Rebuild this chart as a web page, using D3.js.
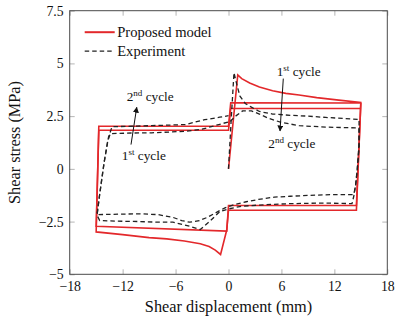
<!DOCTYPE html>
<html>
<head>
<meta charset="utf-8">
<script src="https://cdn.jsdelivr.net/npm/d3@7"></script>
<style>
  body { margin: 0; background: #fff; }
  svg { display: block; }
  text { font-family: "Liberation Serif", "DejaVu Serif", serif; fill: #111; }
</style>
</head>
<body>
<div id="chartContainer"></div>
<script>
// values: [shear displacement (mm), shear stress (MPa)]
var modelCycle1 = [
  [0, 0], [1.05, 4.45], [1.5, 4.28], [2.4, 4.07], [3.5, 3.88], [5, 3.7], [6.5, 3.58],
  [8, 3.5], [10, 3.38], [12.5, 3.26], [15, 3.15],
  [14.5, -1.96], [0, -1.96], [-0.2, -2.9], [-0.9, -4.06],
  [-1.5, -3.85], [-2.2, -3.68], [-3.2, -3.55], [-5, -3.42], [-7, -3.32], [-9, -3.26],
  [-12, -3.12], [-15, -2.99],
  [-14.7, 2.02], [0, 2.02], [0.25, 3.13], [15, 3.12]
];

var modelCycle2 = [
  [15, 3.12], [14.5, -1.74], [0, -1.74], [-0.2, -2.95], [-15, -2.72],
  [-14.7, 1.83], [0, 1.83], [0.25, 2.86], [15, 2.86]
];

var expCycle1 = [
  [0, 0], [0.3, 2.3], [0.62, 4.56], [1.0, 3.9], [1.3, 3.45], [1.9, 3.1], [2.5, 2.95],
  [3.5, 2.72], [5, 2.6], [7, 2.54], [9, 2.5], [11, 2.44], [13, 2.39], [14.8, 2.34],
  [14.8, 1.2], [14.6, 0], [14.4, -0.8], [14.2, -1.22],
  [12, -1.22], [9, -1.26], [7, -1.3], [5.2, -1.34], [3.4, -1.45], [2, -1.56], [0.7, -1.69],
  [-0.4, -1.85], [-1, -1.98], [-2.4, -2.3], [-3.3, -2.45], [-4.4, -2.53], [-5.3, -2.45],
  [-6.3, -2.3], [-8, -2.17], [-10, -2.13], [-12.5, -2.15], [-14.9, -2.17],
  [-14.6, -1.2], [-14.1, 0.3], [-13.7, 1.3], [-13.4, 1.67],
  [-11, 1.7], [-8.7, 1.71], [-4.9, 1.78], [-3, 1.88], [-1.1, 2.1], [0.2, 2.25]
];

var expCycle2 = [
  [0.2, 2.25], [0.8, 2.5], [1.6, 2.75], [2.6, 2.75], [3.5, 2.6], [4.5, 2.4], [6, 2.2],
  [8, 2.05], [11, 1.98], [14.8, 1.94],
  [14.8, 1.0], [14.6, 0], [14.4, -0.8], [14.2, -1.3], [14.0, -1.65],
  [11, -1.62], [7, -1.65], [4.1, -1.7], [1.5, -1.77], [0, -1.9], [-1, -2.03],
  [-2.1, -2.48], [-3.2, -2.88], [-4.4, -2.72], [-6.3, -2.53], [-8, -2.53], [-10, -2.5],
  [-12.5, -2.48], [-14.6, -2.45], [-14.9, -2.2],
  [-14.6, -1.2], [-14.1, 0.3], [-13.6, 1.5], [-13.2, 2.0],
  [-11, 2.02], [-8.7, 2.05], [-4.9, 2.1], [-2.7, 2.33], [-1, 2.45], [0, 2.52]
];

var xTicks = [-18, -12, -6, 0, 6, 12, 18];
var yTicks = [-5, -2.5, 0, 2.5, 5, 7.5];
var legendLabels = ["Proposed model", "Experiment"];

var margin = {top: 10.7, right: 11.7, bottom: 48.7, left: 69.7},
    width = 399 - margin.left - margin.right,
    height = 323 - margin.top - margin.bottom;

var svg = d3.select("#chartContainer").append("svg")
  .attr("width", width + margin.left + margin.right)
  .attr("height", height + margin.top + margin.bottom)
  .append("g")
    .attr("transform", "translate(" + margin.left + " " + margin.top + ")");

var x = d3.scaleLinear().domain([-18, 18]).range([0, width]);
var y = d3.scaleLinear().domain([-5, 7.5]).range([height, 0]);

var fmt = function(d) { return d < 0 ? "\u2212" + Math.abs(d) : String(d); };

// axes, ticks pointing inward like pgfplots
var xg = svg.append("g")
  .attr("transform", "translate(0," + height + ")")
  .call(d3.axisBottom(x).tickValues(xTicks).tickFormat(fmt).tickSizeInner(-5).tickSizeOuter(0).tickPadding(7));
var yg = svg.append("g")
  .call(d3.axisLeft(y).tickValues(yTicks).tickFormat(fmt).tickSizeInner(-5).tickSizeOuter(0).tickPadding(6));
var tg = svg.append("g")
  .call(d3.axisTop(x).tickValues(xTicks).tickFormat("").tickSizeInner(-5).tickSizeOuter(0));
var rg = svg.append("g")
  .attr("transform", "translate(" + width + ",0)")
  .call(d3.axisRight(y).tickValues(yTicks).tickFormat("").tickSizeInner(-5).tickSizeOuter(0));

[xg, yg, tg, rg].forEach(function(g) {
  g.select(".domain").remove();
  g.selectAll(".tick line").attr("stroke", "#b5b5b5");
  g.selectAll(".tick text").attr("font-size", 13.8).attr("fill", "#111")
    .attr("font-family", "Liberation Serif, DejaVu Serif, serif");
});

svg.append("rect")
  .attr("width", width)
  .attr("height", height)
  .attr("fill", "none")
  .attr("stroke", "#4a4a4a")
  .attr("stroke-width", 1);

var line = d3.line()
  .x(function(d) { return x(d[0]); })
  .y(function(d) { return y(d[1]); });

var red = "#e3282b";

svg.append("g").selectAll("path")
  .data([modelCycle1, modelCycle2])
  .join("path")
    .attr("d", line)
    .attr("fill", "none")
    .attr("stroke", red)
    .attr("stroke-width", 1.6)
    .attr("stroke-linejoin", "miter");

svg.append("g").selectAll("path")
  .data([expCycle1, expCycle2])
  .join("path")
    .attr("d", line)
    .attr("fill", "none")
    .attr("stroke", "#222")
    .attr("stroke-width", 1.3)
    .attr("stroke-dasharray", "4.5,3");

// legend
var legend = svg.append("g").attr("transform", "translate(15,21.5)");
legendLabels.forEach(function(label, i) {
  var row = legend.append("g").attr("transform", "translate(0," + (i * 19) + ")");
  row.append("line")
    .attr("x1", 0).attr("x2", 30)
    .attr("stroke", i === 0 ? red : "#222")
    .attr("stroke-width", i === 0 ? 2 : 1.3)
    .attr("stroke-dasharray", i === 0 ? null : "4.5,3");
  row.append("text")
    .attr("x", 32.5)
    .attr("y", 4.8)
    .attr("font-size", 14.6)
    .text(label);
});

// cycle annotations
svg.append("defs").append("marker")
  .attr("id", "head")
  .attr("viewBox", "0 0 10 10")
  .attr("refX", 9).attr("refY", 5)
  .attr("markerWidth", 6).attr("markerHeight", 6)
  .attr("markerUnits", "userSpaceOnUse")
  .attr("orient", "auto")
  .append("path")
    .attr("d", "M0,0L10,5L0,10z")
    .attr("fill", "#111");

function label(xv, yv, num, sup) {
  var t = svg.append("text")
    .attr("x", x(xv)).attr("y", y(yv))
    .attr("font-size", 13.3);
  t.append("tspan").text(num);
  t.append("tspan").attr("font-size", 9).attr("dy", -5).text(sup);
  t.append("tspan").attr("dy", 5).text(" cycle");
}

label(-11.54, 3.22, "2", "nd");
label(-12.1, 0.44, "1", "st");
label(5.46, 4.42, "1", "st");
label(4.51, 1.0, "2", "nd");

svg.append("line")
  .attr("x1", x(-11.05)).attr("y1", y(1.15))
  .attr("x2", x(-10.4)).attr("y2", y(2.92))
  .attr("stroke", "#111").attr("stroke-width", 1)
  .attr("marker-end", "url(#head)");

svg.append("line")
  .attr("x1", x(6.21)).attr("y1", y(4.28))
  .attr("x2", x(5.84)).attr("y2", y(1.8))
  .attr("stroke", "#111").attr("stroke-width", 1)
  .attr("marker-end", "url(#head)");

// axis titles
svg.append("text")
  .attr("x", width / 2)
  .attr("y", height + 38)
  .attr("text-anchor", "middle")
  .attr("font-size", 16.3)
  .text("Shear displacement (mm)");

svg.append("text")
  .attr("transform", "translate(" + (20 - margin.left) + "," + (height / 2) + ") rotate(-90)")
  .attr("text-anchor", "middle")
  .attr("font-size", 16.3)
  .text("Shear stress (MPa)");
</script>
</body>
</html>
